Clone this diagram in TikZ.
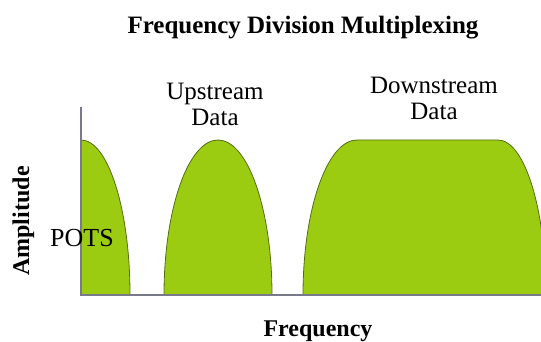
\documentclass[tikz,border=0pt]{standalone}
\usepackage{fontspec}
\IfFontExistsTF{LiberationSerif-Regular.ttf}
  {\setmainfont{LiberationSerif}[Extension=.ttf, UprightFont=*-Regular, BoldFont=*-Bold]}
  {\setmainfont{Liberation Serif}}
\usepackage{tikz}
\usetikzlibrary{positioning}
\definecolor{bandgreen}{RGB}{155,204,18}
\definecolor{bandedge}{RGB}{85,110,20}
\definecolor{axisgray}{RGB}{120,122,138}

\begin{document}
\begin{tikzpicture}[x=1pt,y=1pt,
    band/.style={fill=bandgreen, draw=bandedge, line width=0.8pt},
    axislabel/.style={font=\rmfamily\fontsize{24}{24}\selectfont\bfseries, inner sep=0pt, anchor=base},
    bandlabel/.style={font=\rmfamily\fontsize{25}{22}\selectfont, inner sep=0pt, anchor=base}]
        \useasboundingbox (0,0) rectangle (541,342);
        \clip (0,0) rectangle (541,342);

        % Corner and ends of the axes
        \coordinate (O) at (81,47);
        \coordinate (Ytop) at (81,235);
        \coordinate (Xend) at (541,47);

        % POTS band against the amplitude axis
        \draw[band] (O) -- (81,202) arc (90:0:49 and 155) -- cycle;
        % Upstream band
        \draw[band] (164,47) arc (180:0:54 and 155) -- cycle;
        % Downstream band, flat on top
        \draw[band] (303,47) arc (180:90:54 and 155) -- (498,202)
            arc (90:0:48 and 155) -- cycle;

        % Drawing the axes
        \draw[axisgray, line width=1.5pt] (Ytop) -- (O) -- (Xend);

        % Labels
        \node[axislabel, font=\rmfamily\fontsize{25}{25}\selectfont\bfseries] (title) at (303,308) {Frequency Division Multiplexing};
        \node[bandlabel] (up) at (215,242) {Upstream};
        \node[bandlabel] (updata) at (215,216) {Data};
        \node[bandlabel] (down) at (434,248) {Downstream};
        \node[bandlabel] (downdata) at (434,222) {Data};
        \node[bandlabel, font=\rmfamily\fontsize{26}{26}\selectfont] (pots) at (82,95) {POTS};
        \node[axislabel] (freq) at (318,5) {Frequency};
        \node[axislabel, rotate=90] (amp) at (29,121) {Amplitude};
    \end{tikzpicture}
\end{document}
